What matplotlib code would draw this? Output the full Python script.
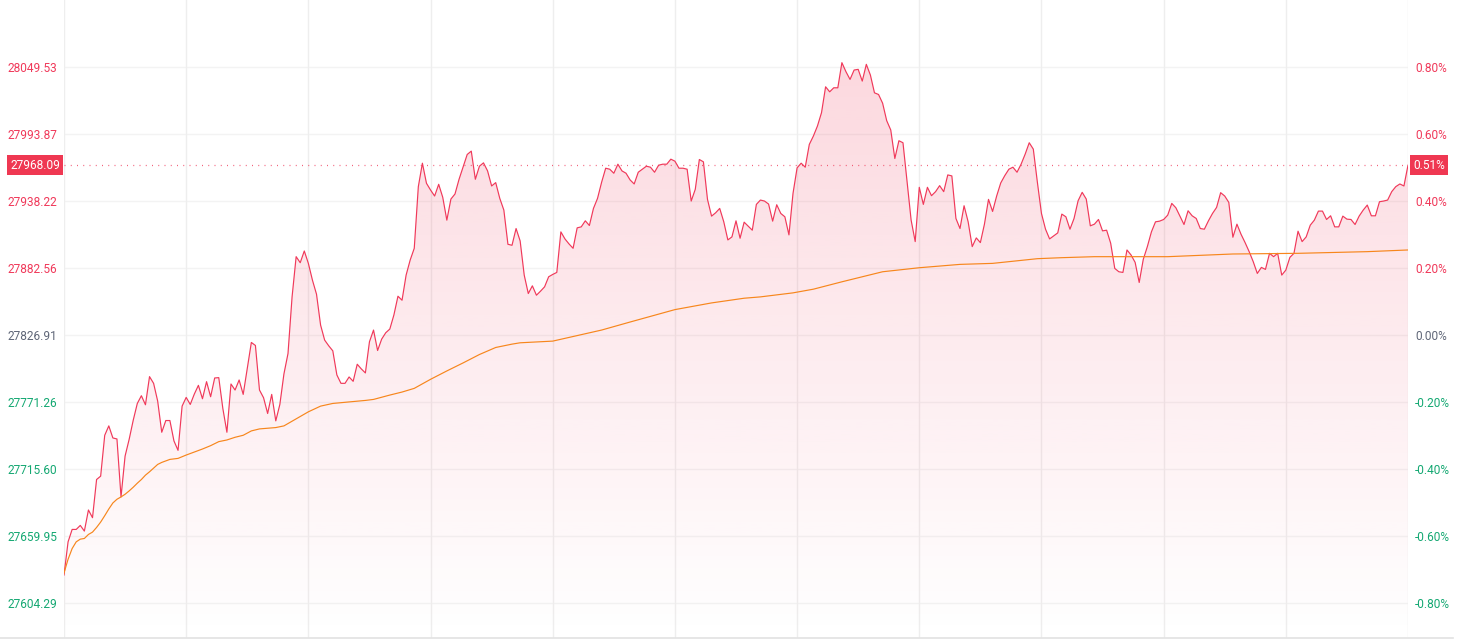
import numpy as np
import matplotlib
matplotlib.use("Agg")
import matplotlib.pyplot as plt
from matplotlib.lines import Line2D
from matplotlib.patches import Polygon

# change vs previous close (%), one value per minute, 331 minutes
pct = [
    -0.716, -0.617, -0.580, -0.580, -0.568, -0.585, -0.522, -0.545, -0.431, -0.421,
    -0.299, -0.271, -0.307, -0.310, -0.483, -0.361, -0.311, -0.254, -0.204, -0.181,
    -0.208, -0.124, -0.144, -0.197, -0.290, -0.255, -0.255, -0.316, -0.344, -0.212,
    -0.186, -0.207, -0.176, -0.150, -0.190, -0.139, -0.184, -0.128, -0.127, -0.219,
    -0.290, -0.146, -0.164, -0.134, -0.177, -0.099, -0.022, -0.031, -0.164, -0.187,
    -0.234, -0.177, -0.256, -0.207, -0.116, -0.055, 0.114, 0.234, 0.216, 0.251,
    0.214, 0.164, 0.122, 0.030, -0.015, -0.032, -0.047, -0.119, -0.144, -0.144,
    -0.125, -0.138, -0.087, -0.101, -0.113, -0.020, 0.015, -0.046, -0.012, 0.007,
    0.018, 0.060, 0.116, 0.104, 0.179, 0.224, 0.259, 0.443, 0.513, 0.453,
    0.433, 0.415, 0.450, 0.411, 0.343, 0.406, 0.421, 0.465, 0.502, 0.539,
    0.549, 0.465, 0.504, 0.514, 0.490, 0.445, 0.455, 0.408, 0.373, 0.271,
    0.268, 0.318, 0.281, 0.179, 0.124, 0.147, 0.119, 0.131, 0.144, 0.174,
    0.181, 0.187, 0.308, 0.287, 0.272, 0.259, 0.320, 0.323, 0.341, 0.327,
    0.378, 0.408, 0.456, 0.498, 0.495, 0.483, 0.510, 0.490, 0.483, 0.463,
    0.451, 0.486, 0.495, 0.504, 0.501, 0.486, 0.507, 0.510, 0.510, 0.525,
    0.519, 0.498, 0.498, 0.495, 0.400, 0.435, 0.524, 0.517, 0.405, 0.355,
    0.365, 0.378, 0.338, 0.284, 0.293, 0.341, 0.289, 0.337, 0.325, 0.313,
    0.390, 0.403, 0.400, 0.391, 0.340, 0.389, 0.363, 0.353, 0.299, 0.423,
    0.499, 0.513, 0.501, 0.569, 0.594, 0.624, 0.664, 0.741, 0.726, 0.738,
    0.738, 0.813, 0.786, 0.763, 0.791, 0.793, 0.758, 0.808, 0.776, 0.723,
    0.718, 0.692, 0.640, 0.612, 0.527, 0.580, 0.574, 0.458, 0.343, 0.279,
    0.441, 0.390, 0.441, 0.416, 0.428, 0.446, 0.428, 0.478, 0.475, 0.348,
    0.318, 0.386, 0.338, 0.264, 0.290, 0.276, 0.331, 0.405, 0.369, 0.415,
    0.454, 0.476, 0.495, 0.501, 0.486, 0.510, 0.540, 0.574, 0.555, 0.456,
    0.363, 0.316, 0.287, 0.296, 0.305, 0.361, 0.353, 0.316, 0.348, 0.401,
    0.426, 0.406, 0.326, 0.331, 0.345, 0.311, 0.313, 0.274, 0.199, 0.189,
    0.187, 0.254, 0.239, 0.217, 0.157, 0.226, 0.264, 0.308, 0.338, 0.340,
    0.345, 0.358, 0.393, 0.380, 0.355, 0.330, 0.371, 0.356, 0.348, 0.318,
    0.316, 0.341, 0.363, 0.381, 0.425, 0.415, 0.396, 0.292, 0.331, 0.301,
    0.276, 0.249, 0.219, 0.184, 0.202, 0.196, 0.244, 0.234, 0.244, 0.179,
    0.194, 0.232, 0.244, 0.310, 0.279, 0.293, 0.328, 0.343, 0.370, 0.370,
    0.345, 0.356, 0.323, 0.323, 0.355, 0.346, 0.345, 0.330, 0.355, 0.373,
    0.388, 0.356, 0.356, 0.398, 0.400, 0.403, 0.428, 0.443, 0.451, 0.445,
    0.507,
]

# average price line, read at these minutes
avg_min = [0, 1, 2, 3, 4, 5, 6, 7, 8, 9, 10, 11, 12, 13, 14, 15, 16, 17, 18, 19,
           20, 21, 22, 23, 24, 26, 28, 30, 32, 34, 36, 38, 40, 42, 44, 46, 48, 50,
           52, 54, 56, 60, 63, 66, 74, 76, 80, 83, 86, 90, 94, 98, 102, 106, 110,
           112, 120, 132, 139, 150, 159, 167, 171, 179, 184, 191, 201, 210, 220,
           228, 239, 245, 253, 261, 271, 287, 303, 320, 330]
avg_pct = [-0.710, -0.669, -0.637, -0.617, -0.609, -0.607, -0.595, -0.588, -0.574,
           -0.558, -0.539, -0.519, -0.501, -0.490, -0.483, -0.475, -0.465, -0.454,
           -0.442, -0.431, -0.418, -0.408, -0.397, -0.386, -0.380, -0.371, -0.368,
           -0.358, -0.349, -0.340, -0.330, -0.318, -0.313, -0.305, -0.299, -0.286,
           -0.280, -0.278, -0.276, -0.271, -0.257, -0.229, -0.212, -0.204, -0.195,
           -0.192, -0.179, -0.170, -0.159, -0.132, -0.107, -0.083, -0.058, -0.037,
           -0.027, -0.023, -0.018, 0.015, 0.039, 0.076, 0.096, 0.110, 0.114, 0.126,
           0.137, 0.159, 0.189, 0.201, 0.211, 0.214, 0.228, 0.231, 0.234, 0.234,
           0.234, 0.242, 0.244, 0.249, 0.254]

pct_ticks = [0.8, 0.6, 0.4, 0.2, 0.0, -0.2, -0.4, -0.6, -0.8]
price_labels = ["28049.53", "27993.87", "27938.22", "27882.56", "27826.91",
                "27771.26", "27715.60", "27659.95", "27604.29"]
pct_labels = ["0.80%", "0.60%", "0.40%", "0.20%", "0.00%",
              "-0.20%", "-0.40%", "-0.60%", "-0.80%"]
last_price = "27968.09"
last_pct_label = "0.51%"

RED = "#f0395a"
GREEN = "#14a872"
GRAY = "#5f6677"
ORANGE = "#f7861c"

plt.rcParams["font.family"] = ["Roboto", "DejaVu Sans"]
plt.rcParams["font.size"] = 8.6

fig = plt.figure(figsize=(14.69, 6.41), dpi=100)
ax = fig.add_axes([64 / 1469, 3 / 641, 1344 / 1469, 638 / 641])
ymin, ymax = -0.904, 1.0
ax.set_xlim(0, 330)
ax.set_ylim(ymin, ymax)

x = np.arange(len(pct))
y = np.array(pct)

# grid
for t in pct_ticks:
    ax.axhline(t, color="#f3f3f3", lw=1, zorder=0)
for m in range(0, 331, 30):
    ax.axvline(m, color="#eeeeee", lw=1, zorder=0)

# gradient fill under price line
top = 0.85
grad = np.zeros((256, 1, 4))
grad[:, 0, :3] = matplotlib.colors.to_rgb(RED)
grad[:, 0, 3] = np.linspace(0.0, 0.2, 256)
img = ax.imshow(grad, extent=[0, 330, ymin, top], origin="lower",
                aspect="auto", zorder=1)
verts = np.vstack([np.column_stack([x, y]), [[330, ymin], [0, ymin]]])
poly = Polygon(verts, closed=True, fc="none", ec="none")
ax.add_patch(poly)
img.set_clip_path(poly)
ax.set_xlim(0, 330)
ax.set_ylim(ymin, ymax)

ax.plot(x, y, color=RED, lw=0.85, zorder=3)
ax.plot(avg_min, avg_pct, color=ORANGE, lw=0.85, zorder=4)

# last price dotted line
ax.axhline(pct[-1], color=RED, lw=0.9, ls=(0, (0.8, 4.2)), alpha=0.8, zorder=2)

for s in ax.spines.values():
    s.set_visible(False)
ax.set_xticks([])

def tick_color(t):
    return RED if t > 0 else (GRAY if t == 0 else GREEN)

ax.set_yticks(pct_ticks, price_labels)
ax.tick_params(axis="y", length=0, pad=5)
for lab, t in zip(ax.get_yticklabels(), pct_ticks):
    lab.set_color(tick_color(t))

ax2 = ax.twinx()
ax2.set_ylim(ymin, ymax)
ax2.set_yticks(pct_ticks, pct_labels)
ax2.tick_params(axis="y", length=0, pad=5)
for s in ax2.spines.values():
    s.set_visible(False)
for lab, t in zip(ax2.get_yticklabels(), pct_ticks):
    lab.set_color(tick_color(t))

# last price tags
ax.annotate(last_price, xy=(0, pct[-1]), xycoords=("axes fraction", "data"),
            xytext=(-4, 0), textcoords="offset pixels", ha="right", va="center",
            color="white", zorder=10,
            bbox=dict(boxstyle="square,pad=0.28", fc="#ef3852", ec="none"))
ax.annotate(last_pct_label, xy=(1, pct[-1]), xycoords=("axes fraction", "data"),
            xytext=(5, 0), textcoords="offset pixels", ha="left", va="center",
            color="white", zorder=10,
            bbox=dict(boxstyle="square,pad=0.28", fc="#ef3852", ec="none"))

fig.add_artist(Line2D([0, 1453 / 1469], [3 / 641, 3 / 641], color="#e2e2e2",
                      lw=1.2, transform=fig.transFigure))

fig.savefig("out.png", dpi=100, facecolor="white")
